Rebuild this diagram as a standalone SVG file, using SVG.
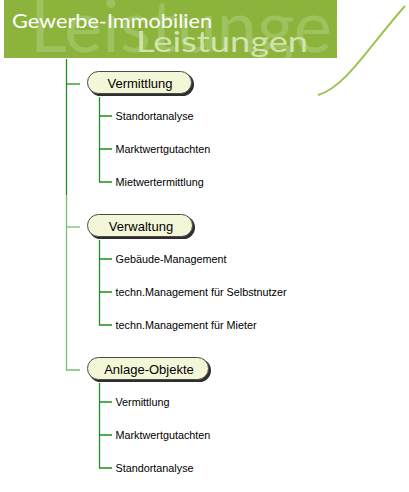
<svg xmlns="http://www.w3.org/2000/svg" width="409" height="492" viewBox="0 0 409 492">
<defs>
<style>
.hdr{font-family:"Lato","Liberation Sans",sans-serif;}
.pill{fill:#f3f7d8;stroke:#4a4a4a;stroke-width:1;}
.shadow{fill:#2e2e2e;}
.ntext{font-family:"Liberation Sans",Arial,sans-serif;font-size:13px;fill:#000;text-anchor:middle;}
.ctext{font-family:"Liberation Sans",Arial,sans-serif;font-size:10.8px;fill:#000;}
.dark{stroke:#1f8f1f;stroke-width:1.3;fill:none;}
.light{stroke:#74c074;stroke-width:1.3;fill:none;}
</style>
<clipPath id="hc"><rect x="4" y="0" width="333" height="58"/></clipPath>
</defs>
<rect width="409" height="492" fill="#ffffff"/>
<g id="header">
<rect x="4" y="0" width="333" height="58" fill="#8cb43c"/>
<g clip-path="url(#hc)">
<text class="hdr" x="30" y="52" font-size="72" fill="#a3c666" fill-opacity="0.8">Leistungen</text>
</g>
<text class="hdr" x="12" y="27.5" font-size="20" fill="#ffffff" textLength="200" lengthAdjust="spacingAndGlyphs">Gewerbe-Immobilien</text>
<text class="hdr" x="136" y="51.5" font-size="29" fill="#d2e3ae" textLength="172" lengthAdjust="spacingAndGlyphs">Leistungen</text>
<path d="M405,6 C370,45 345,88 318,95" stroke="#9cc454" stroke-width="2" fill="none"/>
</g>
<g id="connectors">
<path class="light" d="M66.5,195 V370 H80"/>
<path class="light" d="M66.5,227 H80"/>
<path class="dark" d="M66.5,59 V195"/>
<path class="dark" d="M66.5,84 H80"/>
<path class="dark" d="M99.5,97 V182 H112 M99.5,116 H112 M99.5,149 H112"/>
<path class="dark" d="M99.5,240 V325 H112 M99.5,259 H112 M99.5,292 H112"/>
<path class="dark" d="M99.5,383 V468 H112 M99.5,402 H112 M99.5,435 H112"/>
</g>
<g id="node-vermittlung">
<rect class="shadow" x="89" y="73" width="105" height="23" rx="11.5"/>
<rect class="pill" x="87.5" y="71.5" width="104" height="22" rx="11"/>
<text class="ntext" x="140" y="88">Vermittlung</text>
</g>
<g id="node-verwaltung">
<rect class="shadow" x="89" y="216" width="106" height="23" rx="11.5"/>
<rect class="pill" x="87.5" y="214.5" width="105" height="22" rx="11"/>
<text class="ntext" x="141" y="231">Verwaltung</text>
</g>
<g id="node-anlage">
<rect class="shadow" x="89" y="359" width="122" height="23" rx="11.5"/>
<rect class="pill" x="87.5" y="357.5" width="121" height="22" rx="11"/>
<text class="ntext" x="149" y="374">Anlage-Objekte</text>
</g>
<g id="children-vermittlung">
<text class="ctext" x="115.5" y="119.5">Standortanalyse</text>
<text class="ctext" x="115.5" y="152.5">Marktwertgutachten</text>
<text class="ctext" x="115.5" y="185.5">Mietwertermittlung</text>
</g>
<g id="children-verwaltung">
<text class="ctext" x="115.5" y="262.5">Gebäude-Management</text>
<text class="ctext" x="115.5" y="295.5">techn.Management für Selbstnutzer</text>
<text class="ctext" x="115.5" y="328.5">techn.Management für Mieter</text>
</g>
<g id="children-anlage">
<text class="ctext" x="115.5" y="405.5">Vermittlung</text>
<text class="ctext" x="115.5" y="438.5">Marktwertgutachten</text>
<text class="ctext" x="115.5" y="471.5">Standortanalyse</text>
</g>
</svg>
